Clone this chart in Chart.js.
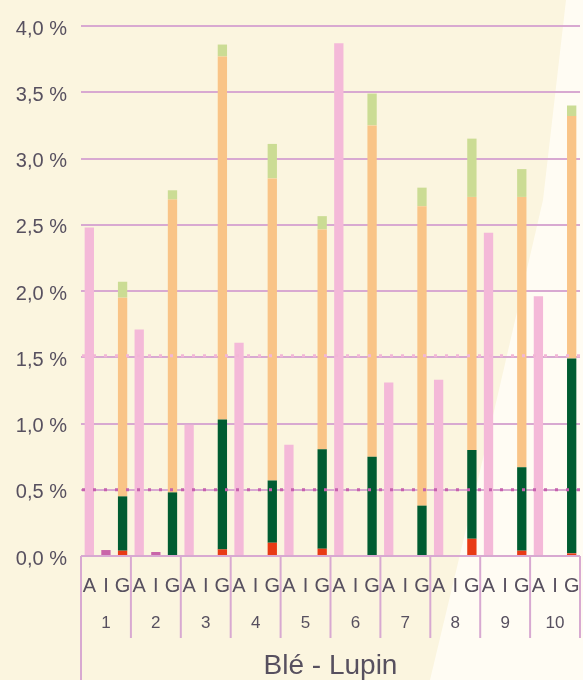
<!DOCTYPE html>
<html>
<head>
<meta charset="utf-8">
<style>
  html, body { margin: 0; padding: 0; }
  body { width: 583px; height: 680px; background: #fbf5df; position: relative; overflow: hidden; }
  #light { position: absolute; left: 0; top: 0; width: 583px; height: 680px; background: #fffcf3;
           clip-path: polygon(566px 0, 583px 0, 583px 680px, 430px 680px, 485px 450px, 543px 200px); }
  #wrap { position: absolute; left: 0; top: 0; width: 583px; height: 680px; }
</style>
<script src="https://cdn.jsdelivr.net/npm/chart.js@4/dist/chart.umd.min.js"></script>
</head>
<body>
<div id="light"></div>
<div id="wrap"><canvas id="chart" width="583" height="680"></canvas></div>
<script>
// Trials 1..10, each with three measurements A, I, G
const groups = ['1', '2', '3', '4', '5', '6', '7', '8', '9', '10'];
const subLabels = ['A', 'I', 'G'];
const axisTitle = 'Blé - Lupin';

// A: single bar per trial (%)
const valuesA = [2.48, 1.71, 0.99, 1.61, 0.84, 3.87, 1.31, 1.33, 2.44, 1.96];
// I: single bar per trial (%)
const valuesI = [0.045, 0.03, null, null, null, null, null, null, null, null];
// G: stacked components (%)
const valuesGRed = [0.04, 0, 0.05, 0.10, 0.055, 0, 0, 0.13, 0.04, 0.02];
const valuesGDarkGreen = [0.41, 0.48, 0.98, 0.47, 0.75, 0.75, 0.38, 0.67, 0.63, 1.47];
const valuesGOrange = [1.50, 2.21, 2.74, 2.28, 1.66, 2.50, 2.26, 1.91, 2.04, 1.83];
const valuesGLightGreen = [0.12, 0.07, 0.09, 0.26, 0.10, 0.24, 0.14, 0.44, 0.21, 0.08];

// Dotted reference levels (%)
const refLevels = [0.5, 1.5];

const TEXT = '#57505f';
const LINE = '#d8a9d1';
const FONT = "'Liberation Sans', Arial, sans-serif";

// one category per (trial, measurement)
const labels = [];
groups.forEach(() => subLabels.forEach(s => labels.push(s)));

function spread(values, slot) {
  const out = new Array(labels.length).fill(null);
  values.forEach((v, i) => { out[i * 3 + slot] = v; });
  return out;
}

function barSet(label, values, slot, color) {
  return {
    label, data: spread(values, slot), backgroundColor: color,
    borderWidth: 0, categoryPercentage: 1, barPercentage: 0.56, stack: 's'
  };
}

const groupAxis = {
  id: 'groupAxis',
  afterDraw(chart) {
    const { ctx, scales: { x, y } } = chart;
    const y0 = y.getPixelForValue(0);
    ctx.save();

    // dotted reference levels
    ctx.lineWidth = 3;
    ctx.setLineDash([3, 8]);
    refLevels.forEach((lv, i) => {
      const py = y.getPixelForValue(lv) - (i === 0 ? 0 : 1.5);
      ctx.strokeStyle = i === 0 ? '#c662ad' : '#f2b6d6';
      ctx.beginPath();
      ctx.moveTo(x.left + 1, py);
      ctx.lineTo(x.right, py);
      ctx.stroke();
    });
    ctx.setLineDash([]);

    // trial separators below the axis
    ctx.strokeStyle = LINE;
    ctx.lineWidth = 2;
    for (let g = 0; g <= groups.length; g++) {
      const px = x.getPixelForValue(g * 3 - 0.5);
      const bottom = g === 0 ? chart.height : y0 + 82;
      ctx.beginPath();
      ctx.moveTo(px, y0);
      ctx.lineTo(px, bottom);
      ctx.stroke();
    }

    // trial numbers
    ctx.fillStyle = TEXT;
    ctx.font = '17px ' + FONT;
    ctx.textAlign = 'center';
    ctx.textBaseline = 'middle';
    groups.forEach((g, i) => {
      ctx.fillText(g, x.getPixelForValue(i * 3 + 1), y0 + 67);
    });
    ctx.restore();
  }
};

new Chart(document.getElementById('chart'), {
  type: 'bar',
  data: {
    labels,
    datasets: [
      barSet('A', valuesA, 0, '#f4b9d8'),
      barSet('I', valuesI, 1, '#c965a9'),
      barSet('G rouge', valuesGRed, 2, '#e83a15'),
      barSet('G vert foncé', valuesGDarkGreen, 2, '#005c31'),
      barSet('G orange', valuesGOrange, 2, '#f9c487'),
      barSet('G vert clair', valuesGLightGreen, 2, '#cbdc94')
    ]
  },
  options: {
    responsive: false,
    devicePixelRatio: 1,
    animation: false,
    layout: { padding: { top: 24, right: 3, left: 0, bottom: 0 } },
    plugins: { legend: { display: false }, tooltip: { enabled: false } },
    scales: {
      x: {
        stacked: true,
        offset: true,
        grid: { display: true, drawOnChartArea: false, color: 'rgba(0,0,0,0)', tickLength: 18 },
        border: { display: false },
        ticks: {
          color: TEXT, padding: 0, autoSkip: false, maxRotation: 0,
          font: { family: FONT, size: 20 }
        },
        title: {
          display: true, text: axisTitle, color: TEXT,
          font: { family: FONT, size: 28, lineHeight: 1.0 }, padding: 0
        },
        afterFit(scale) { scale.height = 124; }
      },
      y: {
        stacked: true,
        min: 0, max: 4,
        z: 1,
        border: { display: false },
        grid: { color: LINE, lineWidth: 2, drawTicks: false },
        ticks: {
          stepSize: 0.5, padding: 14, labelOffset: 3, color: TEXT,
          font: { family: FONT, size: 20 },
          callback: v => v.toFixed(1).replace('.', ',') + ' %'
        },
        afterFit(scale) { scale.width = 81; }
      }
    }
  },
  plugins: [groupAxis]
});
</script>
</body>
</html>
